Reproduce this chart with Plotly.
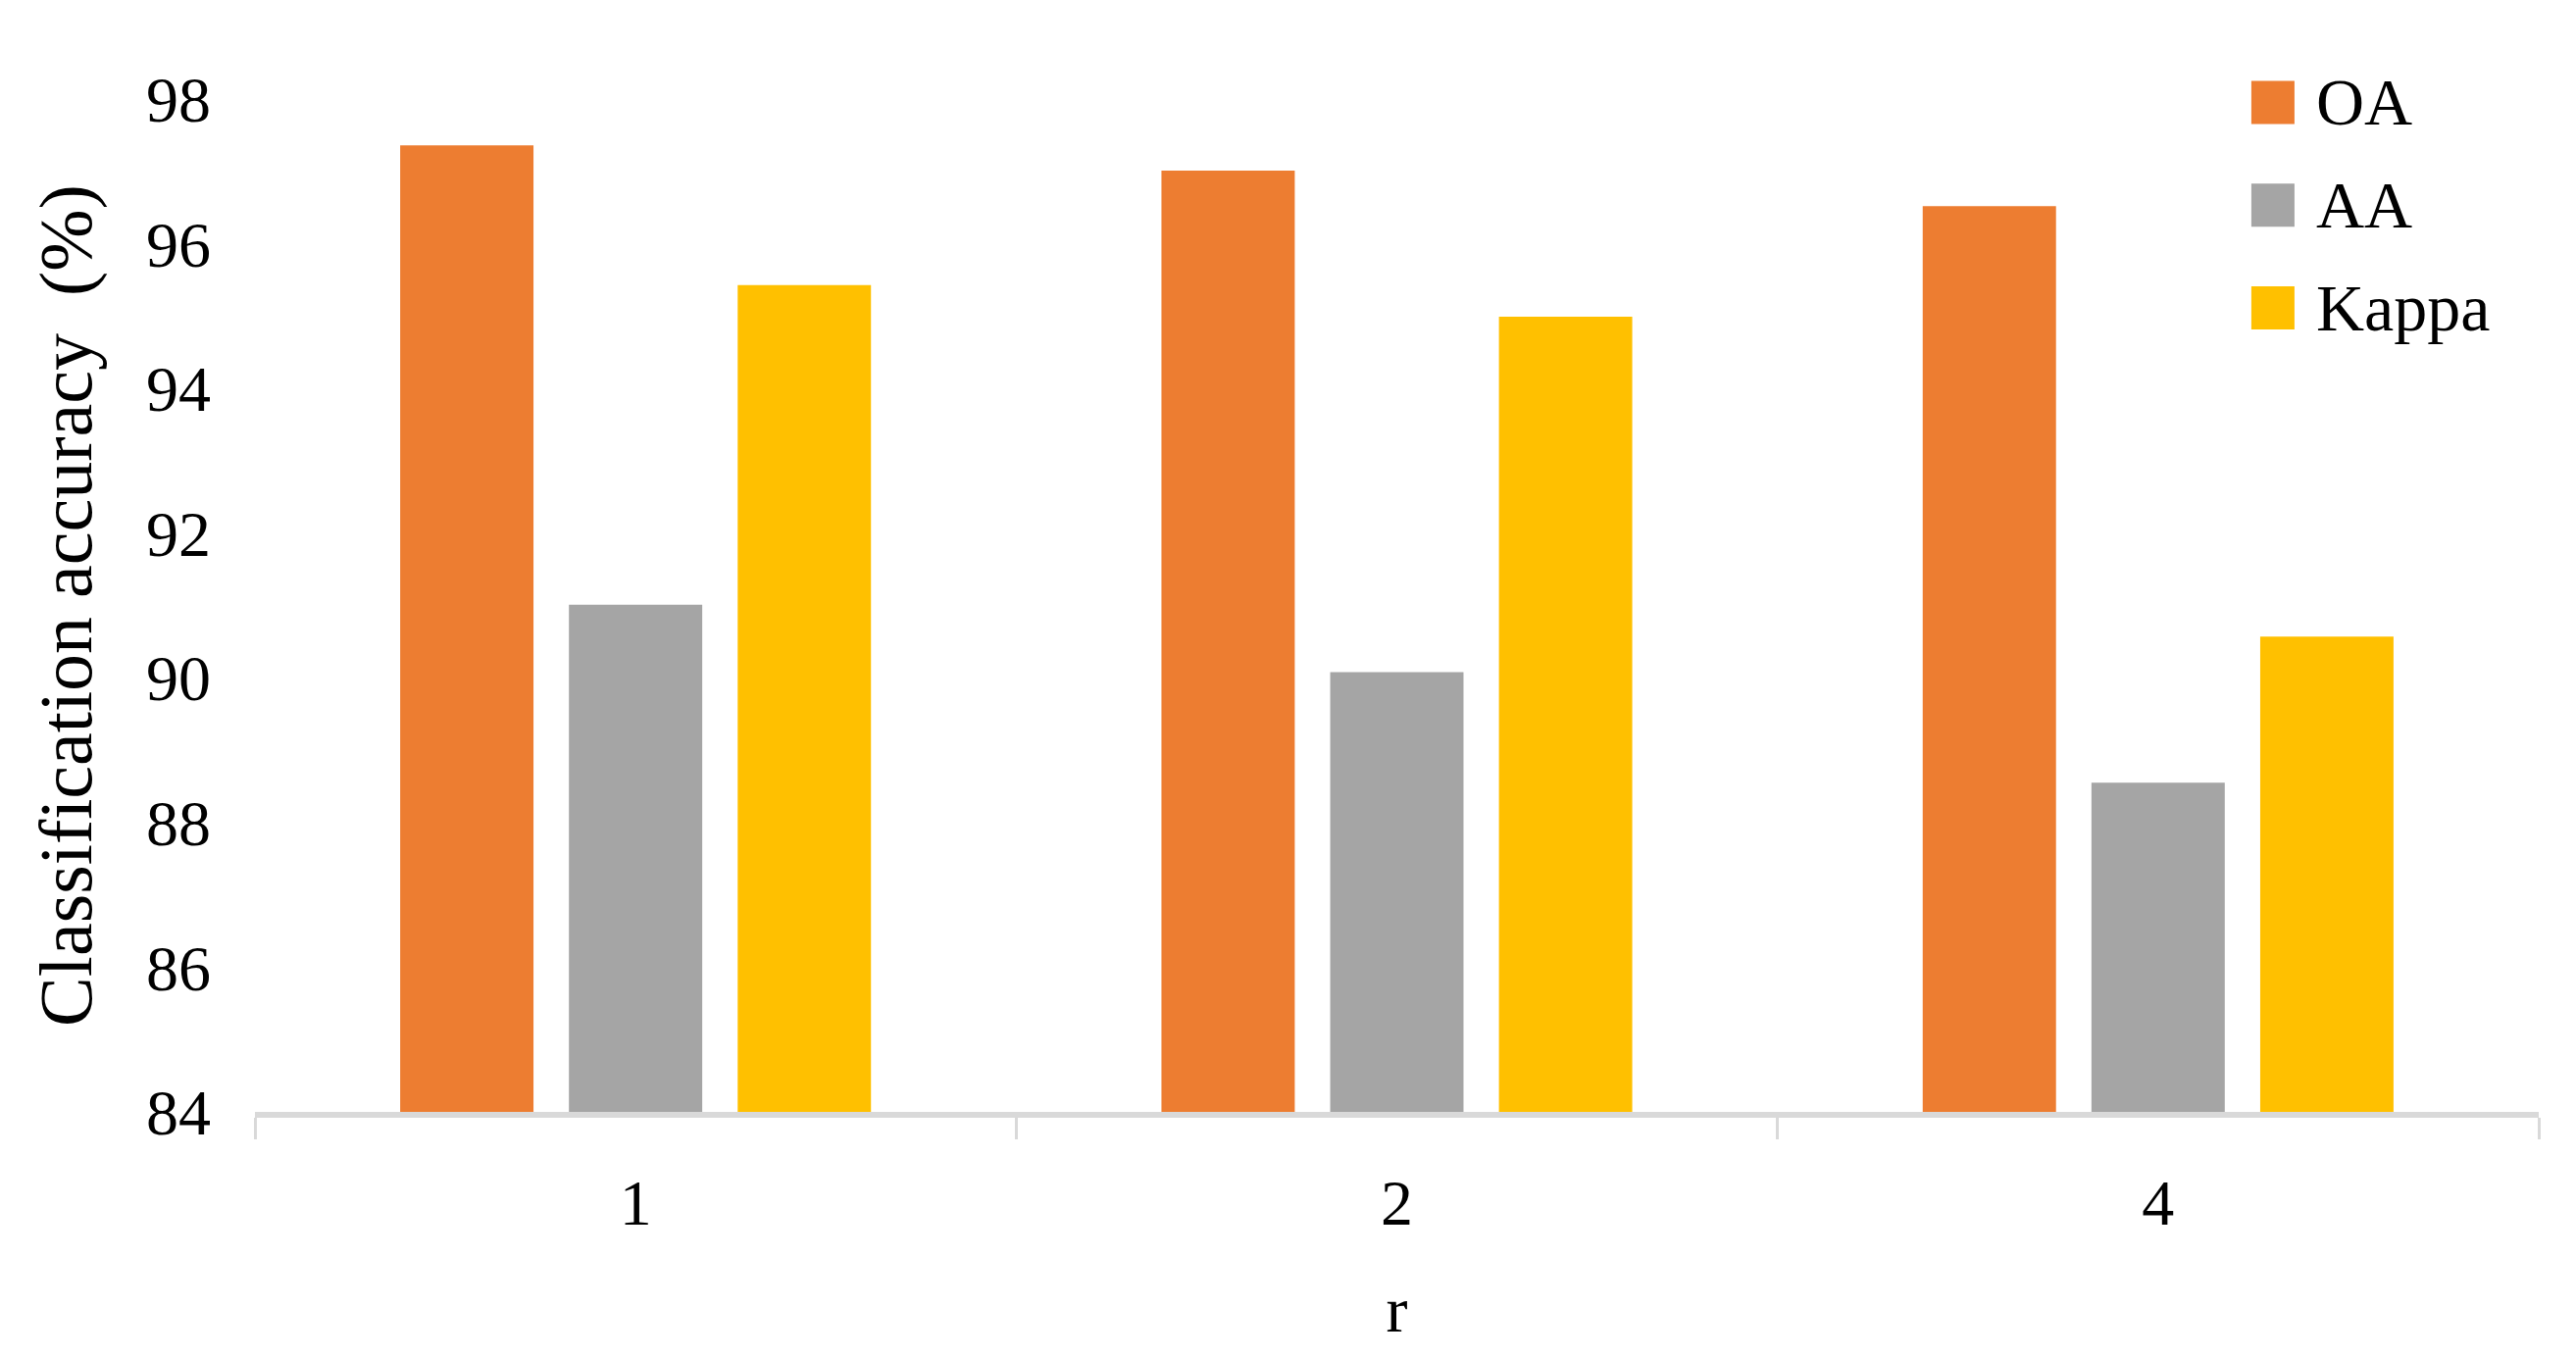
import plotly.graph_objects as go

# ---------------- data ----------------
r_values = ["1", "2", "4"]
series_names = ["OA", "AA", "Kappa"]
oa = [97.36, 97.01, 96.52]
aa = [91.01, 90.08, 88.55]
kappa = [95.43, 94.99, 90.57]
colors = ["#ED7D31", "#A5A5A5", "#FFC000"]
y_ticks = [84, 86, 88, 90, 92, 94, 96, 98]

FONT = "Times New Roman, Liberation Serif, serif"

fig = go.Figure()
for name, vals, col in zip(series_names, [oa, aa, kappa], colors):
    fig.add_trace(go.Bar(x=r_values, y=vals, name=name, marker_color=col,
                         marker_line_width=0, showlegend=False))

# ---------------- hand-made legend (big square swatches) ----------------
leg_x, leg_y, leg_step = 0.8836, 0.9967, 0.1014
for i, (name, col) in enumerate(zip(series_names, colors)):
    y = leg_y - i * leg_step
    fig.add_shape(type="rect", xref="paper", yref="paper",
                  xsizemode="pixel", ysizemode="pixel",
                  xanchor=leg_x, yanchor=y, x0=-22, x1=22, y0=-22, y1=22,
                  fillcolor=col, line_width=0)
    fig.add_annotation(x=leg_x + 0.0180, y=y, xref="paper", yref="paper",
                       text=name, showarrow=False, xanchor="left", yanchor="middle",
                       font=dict(family=FONT, size=68, color="#000000"))

# page body has an 8px margin, so the figure is a bit smaller than the window
fig.update_layout(
    width=2619, height=1377,
    margin=dict(l=252, r=38, t=93, b=251),
    plot_bgcolor="white", paper_bgcolor="white",
    barmode="group", bargap=0.335, bargroupgap=0.21,
    font=dict(family=FONT, size=66, color="#000000"),
)

fig.update_xaxes(
    type="category", showgrid=False,
    showline=True, linecolor="#D9D9D9", linewidth=6,
    ticks="outside", tickson="boundaries", ticklen=22, tickwidth=3, tickcolor="#D9D9D9",
    tickfont=dict(family=FONT, size=66), ticklabelstandoff=30,
    title=dict(text="r", font=dict(family=FONT, size=66), standoff=52),
)

fig.update_yaxes(
    range=[84, 98], tickvals=y_ticks, showgrid=False, zeroline=False,
    showline=False, ticks="",
    tickfont=dict(family=FONT, size=66), ticklabelstandoff=44,
    title=dict(text="Classification accuracy\u00a0 (%)", font=dict(family=FONT, size=76), standoff=30),
)

fig.write_html("out.html")
